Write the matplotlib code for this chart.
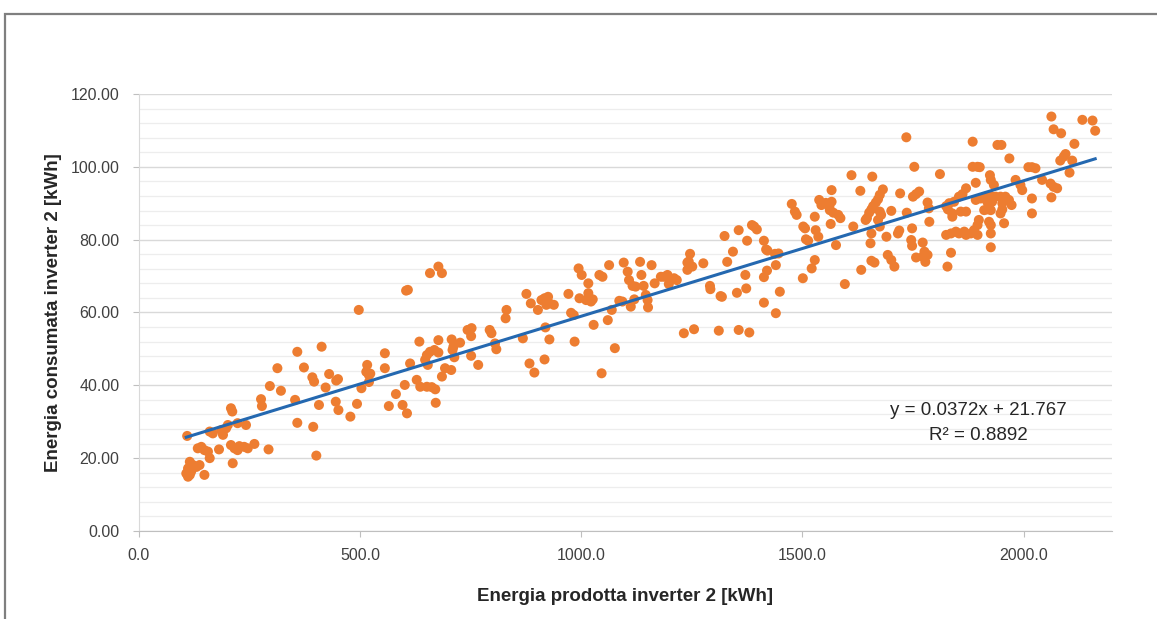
import numpy as np
import matplotlib.pyplot as plt
from matplotlib.ticker import MultipleLocator, FuncFormatter
from matplotlib.patches import Rectangle

# energy produced by inverter 2 [kWh] (x) and energy consumed [kWh] (y)
prodotta = [
    109, 160, 167, 186, 190, 197, 201, 242,
    133, 141, 148, 156, 160, 181,
    208, 216, 223, 227, 238, 246, 261, 293, 212,
    115, 122, 111, 107, 115, 130, 137, 118, 111, 148,
    208, 211, 223, 276, 278, 296, 321, 313, 358, 373, 353, 358, 392, 396, 413,
    422, 430, 446, 450, 407, 445, 451, 478, 394, 401, 493, 497,
    503, 516, 514, 520, 523, 520, 556, 556, 565, 581, 596, 606, 601, 604, 608,
    613, 628, 636, 634, 651, 662, 670, 671, 647, 653, 651, 658, 668, 677,
    658, 677, 685, 677, 685, 692, 706, 707, 711, 709, 713, 726, 743, 752,
    751, 751, 767, 793, 797, 805, 808, 831, 829, 868, 876, 886, 883, 894,
    902, 910, 917, 925, 928, 938, 921, 919, 917, 928, 971, 977, 983, 985,
    994, 1001, 996, 1011,
    1016, 1016, 1018, 1022, 1026, 1028, 1041, 1048, 1046, 1060, 1063, 1069,
    1076, 1086, 1093, 1096, 1105, 1108, 1116, 1123, 1112, 1120, 1133, 1136,
    1141, 1146, 1151, 1150, 1159, 1166, 1180, 1187, 1195, 1202, 1198, 1210,
    1216, 1232, 1255, 1240, 1243, 1246, 1251, 1240, 1276, 1291, 1292, 1311,
    1315, 1318, 1324, 1330, 1343, 1352, 1356, 1356, 1371, 1373, 1375, 1380,
    1386, 1391, 1397, 1413, 1418, 1421, 1413, 1420, 1413, 1438, 1446, 1440,
    1440, 1449, 1476, 1483, 1487, 1501, 1502, 1506, 1508, 1513, 1521, 1528, 1528,
    1538, 1543, 1530, 1536, 1553, 1561, 1566, 1562, 1570, 1566, 1564, 1576,
    1581, 1586, 1596, 1611, 1615, 1631, 1633,
    1682, 1675, 1671, 1666, 1660, 1656, 1651, 1646, 1643, 1675, 1678, 1671, 1675,
    1658, 1656, 1654, 1656, 1663, 1690, 1693, 1701, 1708, 1701, 1716, 1719,
    1721, 1735, 1736, 1750, 1757, 1764, 1748, 1753, 1746, 1748,
    1772, 1776, 1783, 1772, 1757, 1778, 1783, 1786, 1787, 1811, 1828,
    1892, 1924, 1926, 1933, 1982, 1993, 1997, 1870, 1862, 1854, 1843, 1832,
    1825, 1829, 1839, 1839, 1858, 1870, 1836, 1825, 1836, 1847, 1854, 1866,
    1870, 1881, 1888, 1896, 1899, 1896, 1892, 1903, 1914, 1926, 1937, 1948,
    1959, 1967, 1973, 1952, 1929, 1918, 1911, 1918, 1926, 1952, 1948, 1922,
    1926, 1956, 1926, 1926, 2019, 2019,
    1885, 1885, 1896, 1901, 1941, 1950, 1968,
    2011, 2019, 2027, 2042, 2061, 2068, 2076, 2063, 2063, 2068, 2085, 2083,
    2091, 2095, 2110, 2104, 2115, 2133, 2156, 2162,
]
consumata = [
    26.1, 27.3, 26.8, 27.7, 26.4, 28.2, 29.1, 29.1,
    22.7, 23.1, 22.2, 21.8, 20.0, 22.4,
    23.6, 22.7, 22.2, 23.3, 23.1, 22.7, 23.9, 22.4, 18.6,
    19.0, 18.1, 17.2, 15.8, 15.4, 17.6, 18.1, 16.3, 14.9, 15.4,
    33.7, 32.8, 29.6, 36.2, 34.3, 39.8, 38.5, 44.7, 49.2, 44.9, 36.0, 29.7, 42.2, 41.0, 50.6,
    39.4, 43.1, 41.3, 41.7, 34.6, 35.5, 33.2, 31.4, 28.6, 20.7, 34.9, 60.7,
    39.2, 45.6, 43.7, 42.8, 43.2, 40.9, 48.8, 44.7, 34.3, 37.6, 34.6, 32.3, 40.1, 66.0, 66.2,
    46.0, 41.5, 39.6, 52.0, 39.6, 39.5, 38.9, 35.2, 47.0, 45.6, 48.3, 49.2, 49.7, 49.0,
    70.8, 72.6, 70.8, 52.4, 42.4, 44.7, 44.2, 52.6, 50.6, 49.7, 47.7, 51.7, 55.2, 55.7,
    53.5, 48.1, 45.6, 55.2, 54.3, 51.5, 49.9, 60.7, 58.4, 52.9, 65.1, 62.5, 46.0, 43.5,
    60.7, 63.4, 63.9, 64.3, 62.5, 62.1, 62.1, 55.9, 47.1, 52.6, 65.1, 59.9, 59.3, 52.0,
    72.1, 70.3, 63.9, 63.4,
    68.0, 65.3, 63.4, 63.0, 63.6, 56.6, 70.3, 69.8, 43.3, 57.9, 73.0, 60.7,
    50.2, 63.2, 63.0, 73.7, 71.2, 68.9, 67.3, 67.1, 61.6, 63.6, 73.9, 70.3,
    67.3, 64.8, 61.4, 63.4, 73.0, 68.0, 69.8, 69.8, 70.3, 68.9, 67.8, 69.4,
    68.9, 54.3, 55.4, 71.7, 74.0, 76.1, 72.6, 73.7, 73.5, 67.3, 66.4, 55.0,
    64.5, 64.3, 81.0, 73.9, 76.7, 65.4, 82.6, 55.2, 70.3, 66.6, 79.7, 54.5,
    84.0, 83.6, 82.8, 79.7, 77.3, 77.0, 69.7, 71.5, 62.7, 76.1, 76.2, 73.0,
    59.8, 65.7, 89.8, 87.7, 86.8, 69.4, 83.6, 83.1, 80.1, 79.7, 72.1, 74.4, 86.3,
    90.9, 89.5, 82.6, 80.8, 90.1, 89.0, 90.4, 88.1, 87.4, 93.6, 84.3, 78.5,
    86.8, 85.9, 67.8, 97.7, 83.6, 93.4, 71.7,
    93.8, 92.3, 91.1, 90.2, 89.2, 88.3, 87.4, 85.9, 85.4, 87.7, 86.8, 85.4, 83.6,
    97.3, 81.7, 79.0, 74.2, 73.7, 80.8, 75.8, 74.4, 72.6, 87.9, 81.7, 82.5,
    92.7, 108.1, 87.4, 91.8, 92.5, 93.2, 83.1, 100.0, 79.9, 78.3,
    79.2, 76.7, 75.8, 75.3, 75.1, 73.9, 90.2, 88.6, 84.9, 98.0, 72.6,
    95.6, 97.7, 96.4, 95.0, 96.4, 95.0, 93.6, 94.1, 92.5, 91.8, 90.4, 90.0,
    89.2, 88.3, 87.2, 86.3, 87.7, 87.7, 76.4, 81.3, 81.7, 82.2, 81.7, 82.2,
    81.3, 81.7, 82.6, 84.0, 85.4, 81.3, 90.9, 91.3, 91.8, 92.0, 91.8, 91.8,
    91.8, 90.9, 89.5, 90.0, 90.4, 90.4, 88.1, 88.3, 88.1, 88.3, 87.2, 84.9,
    84.0, 84.5, 81.7, 77.9, 91.3, 87.2,
    106.9, 100.0, 100.0, 99.9, 106.0, 106.0, 102.3,
    99.9, 99.9, 99.6, 96.4, 95.4, 94.5, 94.1, 91.6, 113.8, 110.3, 109.2, 101.7,
    102.8, 103.5, 101.7, 98.4, 106.3, 112.9, 112.7, 109.9,
]

# linear trendline as shown on the chart
slope = 0.0372
intercept = 21.767
eq_text = "y = 0.0372x + 21.767"
r2_text = "R² = 0.8892"

x_label = "Energia prodotta inverter 2 [kWh]"
y_label = "Energia consumata inverter 2 [kWh]"

plt.rcParams['font.family'] = ['Liberation Sans Narrow', 'Liberation Sans', 'DejaVu Sans']

fig = plt.figure(figsize=(11.57, 6.19), dpi=100)
ax = fig.add_axes([0.1201, 0.1422, 0.841, 0.706])

# grey frame of the chart area (only top and left visible)
fig.patches.append(Rectangle((5 / 1157, -0.1), 1.2, 1 - 14 / 619 + 0.1,
                             transform=fig.transFigure, fill=False,
                             edgecolor='#7f7f7f', linewidth=1.6))

x = np.array(prodotta)
y = np.array(consumata)
ax.scatter(x, y, s=52, color='#ED7D31', edgecolors='none', zorder=3)

xl = np.array([x.min(), x.max()])
ax.plot(xl, slope * xl + intercept, color='#2468B0', linewidth=2.2, zorder=4)

ax.set_xlim(0, 2200)
ax.set_ylim(0, 120)
ax.set_xticks([0, 500, 1000, 1500, 2000])
ax.yaxis.set_major_locator(MultipleLocator(20))
ax.yaxis.set_minor_locator(MultipleLocator(4))
ax.xaxis.set_major_formatter(FuncFormatter(lambda v, p: f"{v:.1f}"))
ax.yaxis.set_major_formatter(FuncFormatter(lambda v, p: f"{v:.2f}"))

ax.grid(axis='y', which='major', color='#d9d9d9', linewidth=1.0, zorder=0)
ax.grid(axis='y', which='minor', color='#ededed', linewidth=0.9, zorder=0)
ax.set_axisbelow(True)

for s in ['top', 'right']:
    ax.spines[s].set_visible(False)
ax.spines['bottom'].set_color('#bfbfbf')
ax.spines['left'].set_color('#d9d9d9')
ax.tick_params(axis='both', which='major', labelsize=11.5, colors='#404040',
               length=4, color='#bfbfbf')
ax.tick_params(axis='y', which='minor', length=0)
ax.tick_params(axis='y', pad=10)
ax.tick_params(axis='x', pad=8)

ax.set_xlabel(x_label, fontsize=13.5, fontweight='bold', color='#262626', labelpad=18)
ax.set_ylabel(y_label, fontsize=13.5, fontweight='bold', color='#262626', labelpad=6)

ax.text(1897, 33.2, eq_text, ha='center', va='center', fontsize=13.5, color='#262626')
ax.text(1897, 26.1, r2_text, ha='center', va='center', fontsize=13.5, color='#262626')

fig.savefig('out.png', dpi=100, facecolor='white')
